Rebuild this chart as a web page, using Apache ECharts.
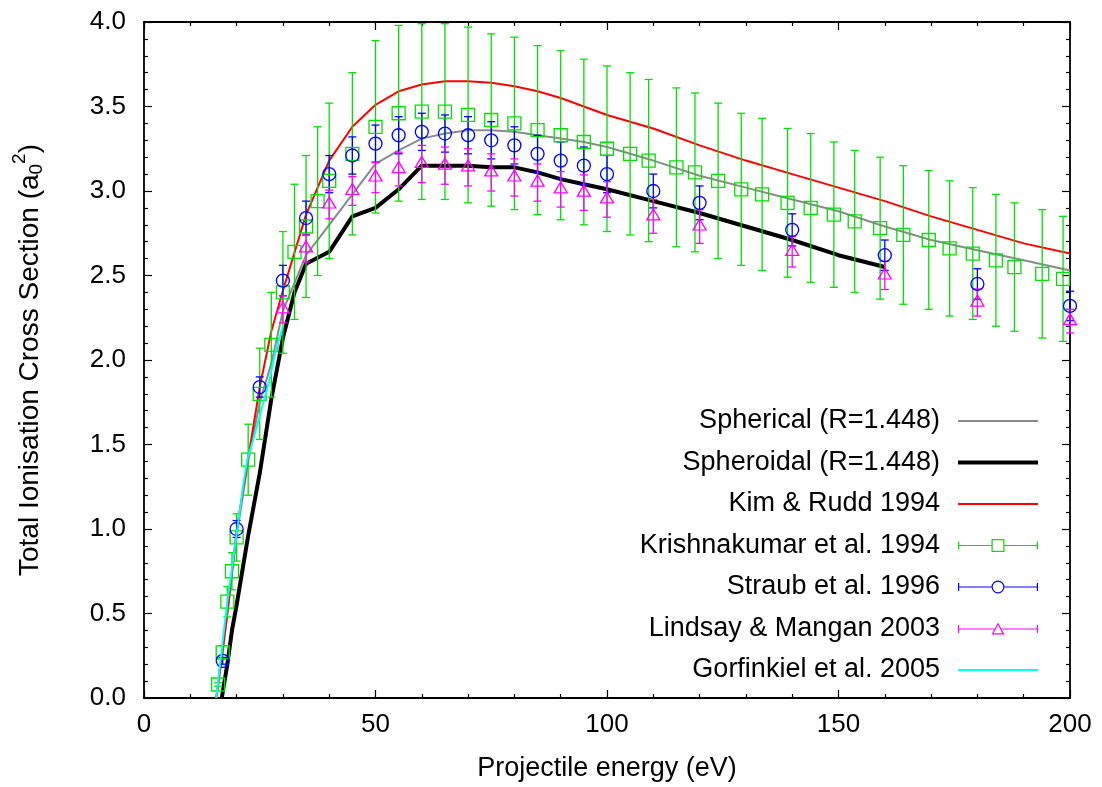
<!DOCTYPE html>
<html>
<head>
<meta charset="utf-8">
<script src="https://cdn.jsdelivr.net/npm/echarts@6/dist/echarts.min.js"></script>
<style>
html,body{margin:0;padding:0;background:#fff;}
#chart{width:1102px;height:787px;}
</style>
</head>
<body>
<div id="chart"></div>
<script>
// ---------------- data ----------------
const xTicks = [0, 50, 100, 150, 200];
const yTicks = [0, 0.5, 1.0, 1.5, 2.0, 2.5, 3.0, 3.5, 4.0];

const sphericalE = [15.6, 17, 20, 22.5, 25, 27.5, 30, 35, 40, 45, 50, 55, 60, 65, 70, 75, 80, 85, 90, 95, 100, 110, 120, 130, 140, 150, 160, 170, 180, 190, 200];
const sphericalV = [0, 0.27, 0.96, 1.40, 1.75, 1.98, 2.29, 2.62, 2.80, 2.98, 3.16, 3.24, 3.31, 3.34, 3.36, 3.36, 3.35, 3.33, 3.31, 3.29, 3.26, 3.18, 3.09, 3.02, 2.95, 2.88, 2.79, 2.71, 2.65, 2.59, 2.53];

const spheroidalE = [16.8, 18, 19, 20, 22.5, 25, 27.5, 30, 32.5, 35, 40, 45, 50, 55, 60, 65, 70, 75, 80, 85, 90, 95, 100, 110, 120, 130, 140, 150, 160];
const spheroidalV = [0, 0.2, 0.4, 0.55, 0.96, 1.33, 1.77, 2.13, 2.40, 2.57, 2.64, 2.85, 2.90, 3.01, 3.15, 3.15, 3.15, 3.14, 3.14, 3.11, 3.07, 3.04, 3.01, 2.94, 2.87, 2.79, 2.71, 2.62, 2.55];

const kimRuddE = [15.6, 18, 20, 22.5, 25, 27.5, 30, 35, 40, 45, 50, 55, 60, 65, 70, 75, 80, 85, 90, 95, 100, 110, 120, 130, 140, 150, 160, 170, 180, 190, 200];
const kimRuddV = [0, 0.5, 0.99, 1.42, 1.84, 2.17, 2.41, 2.86, 3.18, 3.38, 3.51, 3.59, 3.63, 3.65, 3.65, 3.64, 3.62, 3.59, 3.55, 3.50, 3.45, 3.37, 3.27, 3.18, 3.10, 3.02, 2.94, 2.85, 2.77, 2.69, 2.63];

const krishE = [16, 17, 18, 19, 20, 22.5, 25, 27.5, 30, 32.5, 35, 37.5, 40, 45, 50, 55, 60, 65, 70, 75, 80, 85, 90, 95, 100, 105, 109, 115, 119, 124, 129, 133.5, 139, 144, 149, 153.5, 159, 164, 169.5, 174, 179, 184, 188, 194, 198.5];
const krishV = [0.08, 0.27, 0.57, 0.75, 0.95, 1.41, 1.80, 2.09, 2.40, 2.64, 2.79, 2.94, 3.06, 3.22, 3.38, 3.46, 3.47, 3.47, 3.45, 3.42, 3.40, 3.36, 3.33, 3.29, 3.25, 3.22, 3.18, 3.14, 3.11, 3.06, 3.01, 2.98, 2.93, 2.90, 2.86, 2.82, 2.78, 2.74, 2.71, 2.66, 2.63, 2.59, 2.55, 2.51, 2.48];
const krishErr = [0.01, 0.04, 0.09, 0.11, 0.14, 0.21, 0.27, 0.31, 0.36, 0.40, 0.42, 0.44, 0.46, 0.48, 0.51, 0.52, 0.52, 0.52, 0.52, 0.51, 0.51, 0.50, 0.50, 0.49, 0.49, 0.48, 0.48, 0.47, 0.47, 0.46, 0.45, 0.45, 0.44, 0.44, 0.43, 0.42, 0.42, 0.41, 0.41, 0.40, 0.39, 0.39, 0.38, 0.38, 0.37];

const straubE = [17, 20, 25, 30, 35, 40, 45, 50, 55, 60, 65, 70, 75, 80, 85, 90, 95, 100, 110, 120, 140, 160, 180, 200];
const straubV = [0.22, 1.00, 1.84, 2.47, 2.84, 3.10, 3.21, 3.28, 3.33, 3.35, 3.34, 3.33, 3.30, 3.27, 3.22, 3.18, 3.15, 3.10, 3.00, 2.93, 2.77, 2.62, 2.45, 2.32];
const straubErr = [0.02, 0.05, 0.06, 0.09, 0.10, 0.11, 0.11, 0.11, 0.11, 0.11, 0.11, 0.11, 0.11, 0.11, 0.11, 0.11, 0.11, 0.11, 0.10, 0.10, 0.095, 0.09, 0.09, 0.087];

const lindsayE = [30, 35, 40, 45, 50, 55, 60, 65, 70, 75, 80, 85, 90, 95, 100, 110, 120, 140, 160, 180, 200];
const lindsayV = [2.30, 2.66, 2.92, 3.00, 3.08, 3.13, 3.16, 3.15, 3.14, 3.11, 3.08, 3.05, 3.01, 2.99, 2.95, 2.85, 2.79, 2.64, 2.50, 2.34, 2.23];
const lindsayErr = [0.08, 0.08, 0.085, 0.085, 0.09, 0.1, 0.11, 0.11, 0.11, 0.11, 0.11, 0.11, 0.105, 0.105, 0.105, 0.10, 0.10, 0.09, 0.083, 0.08, 0.07];

const gorfE = [15.6, 16.5, 18, 20, 21.5, 22.3, 23.6, 25, 27, 28.5, 30];
const gorfV = [0, 0.22, 0.57, 0.97, 1.27, 1.41, 1.53, 1.67, 1.87, 2.06, 2.20];

const names = ['Spherical (R=1.448)', 'Spheroidal (R=1.448)', 'Kim & Rudd 1994', 'Krishnakumar et al. 1994', 'Straub et al. 1996', 'Lindsay & Mangan 2003', 'Gorfinkiel et al. 2005'];

// ---------------- styling ----------------
const FONT = '"Liberation Sans", Arial, Helvetica, sans-serif';
const C_GRAY = '#8a8a8a', C_BLACK = '#000000', C_RED = '#ff0000', C_GREEN = '#00e000', C_BLUE = '#0000ff', C_MAG = '#ff00ff', C_CYAN = '#00ffff';

const pairs = (E, V) => E.map((e, i) => [e, V[i]]);

function lineSeries(name, E, V, color, width) {
  return {
    type: 'line', name, data: pairs(E, V), symbol: 'none', showSymbol: false,
    lineStyle: { color, width }, itemStyle: { color }, silent: true, animation: false, z: 2
  };
}

function errSeries(name, E, V, Err, color) {
  return {
    type: 'custom', name, silent: true, animation: false, z: 3,
    data: E.map((e, i) => [e, V[i] - Err[i], V[i] + Err[i]]),
    encode: { x: 0, y: [1, 2] },
    renderItem(params, api) {
      const x = api.value(0);
      const lo = api.coord([x, api.value(1)]);
      const hi = api.coord([x, api.value(2)]);
      const cw = 4;
      const style = { stroke: color, lineWidth: 1.3, fill: null };
      return {
        type: 'group', children: [
          { type: 'line', shape: { x1: lo[0], y1: lo[1], x2: hi[0], y2: hi[1] }, style },
          { type: 'line', shape: { x1: lo[0] - cw, y1: lo[1], x2: lo[0] + cw, y2: lo[1] }, style },
          { type: 'line', shape: { x1: hi[0] - cw, y1: hi[1], x2: hi[0] + cw, y2: hi[1] }, style }
        ]
      };
    }
  };
}

function markSeries(name, E, V, color, symbol, size, offset) {
  return {
    type: 'scatter', name, data: pairs(E, V), symbol, symbolSize: size,
    symbolOffset: offset || [0, 0], clip: false, silent: true, animation: false, z: 4,
    itemStyle: { color: 'rgba(0,0,0,0)', borderColor: color, borderWidth: 1.3, opacity: 1 }
  };
}

// legend icons (drawn as filled paths, 80 x 14 box)
const ICON_GRAY = 'path://M0,0h80v2h-80z';
const ICON_BLACK = 'path://M0,0h80v4h-80z';
const ICON_SQ = 'path://M0,6.4h33.5v1.2h-33.5z M46.5,6.4h33.5v1.2h-33.5z M0,3h1.2v8h-1.2z M78.8,3h1.2v8h-1.2z M33.5,0.5h13v13h-13z M34.7,1.7v10.6h10.6v-10.6z';
const ICON_CI = 'path://M0,6.4h33.5v1.2h-33.5z M46.5,6.4h33.5v1.2h-33.5z M0,3h1.2v8h-1.2z M78.8,3h1.2v8h-1.2z M33.5,7a6.5,6.5 0 1,1 13,0a6.5,6.5 0 1,1 -13,0z M34.7,7a5.3,5.3 0 1,0 10.6,0a5.3,5.3 0 1,0 -10.6,0z';
const ICON_TR = 'path://M0,6.4h36.2v1.2h-36.2z M43.8,6.4h36.2v1.2h-36.2z M0,3h1.2v8h-1.2z M78.8,3h1.2v8h-1.2z M40,0.5L46.5,12.5L33.5,12.5z M40,2.9L35.6,11.3L44.4,11.3z';

const axisCommon = {
  type: 'value',
  axisLine: { show: true, onZero: false, lineStyle: { color: '#000', width: 1.8 } },
  axisTick: { show: true, inside: true, length: 8, lineStyle: { color: '#000', width: 1.2 } },
  minorTick: { show: true, splitNumber: 5, length: 4, lineStyle: { color: '#000', width: 1.2 } },
  splitLine: { show: false },
  minorSplitLine: { show: false }
};

const option = {
  animation: false,
  backgroundColor: '#ffffff',
  grid: { left: 144, right: 32, top: 22, bottom: 89, containLabel: false },
  xAxis: [
    Object.assign({}, axisCommon, {
      min: xTicks[0], max: xTicks[xTicks.length - 1], interval: xTicks[1] - xTicks[0], position: 'bottom',
      name: 'Projectile energy (eV)', nameLocation: 'middle', nameGap: 57,
      nameTextStyle: { fontSize: 27, color: '#000', fontFamily: FONT },
      axisLabel: { show: true, fontSize: 26, color: '#000', fontFamily: FONT, margin: 14 }
    }),
    Object.assign({}, axisCommon, {
      min: xTicks[0], max: xTicks[xTicks.length - 1], interval: xTicks[1] - xTicks[0], position: 'top',
      axisLabel: { show: false }
    })
  ],
  yAxis: [
    Object.assign({}, axisCommon, {
      min: yTicks[0], max: yTicks[yTicks.length - 1], interval: yTicks[1] - yTicks[0], position: 'left',
      name: '{m|Total Ionisation Cross Section (a}{sub|0}{sup|2}{m|)}',
      nameLocation: 'middle', nameRotate: 90, nameGap: 94,
      nameTextStyle: {
        color: '#000', fontFamily: FONT,
        rich: {
          m: { fontSize: 28, fontFamily: FONT, color: '#000', lineHeight: 40, verticalAlign: 'middle' },
          sub: { fontSize: 19, fontFamily: FONT, color: '#000', lineHeight: 19, verticalAlign: 'bottom', padding: [0, 0, 4, 0] },
          sup: { fontSize: 19, fontFamily: FONT, color: '#000', lineHeight: 19, verticalAlign: 'top', padding: [0, 0, 0, 0] }
        }
      },
      axisLabel: { show: true, fontSize: 26, color: '#000', fontFamily: FONT, margin: 18, formatter: v => v.toFixed(1) }
    }),
    Object.assign({}, axisCommon, {
      min: yTicks[0], max: yTicks[yTicks.length - 1], interval: yTicks[1] - yTicks[0], position: 'right',
      axisLabel: { show: false }
    })
  ],
  legend: {
    orient: 'vertical', align: 'right', right: 64, top: 406, padding: 0,
    itemWidth: 80, itemHeight: 14, itemGap: 11.5, selectedMode: false,
    textStyle: { fontSize: 27, color: '#000', fontFamily: FONT, lineHeight: 30, padding: [0, 13, 0, 0] },
    data: [
      { name: names[0], icon: ICON_GRAY, itemStyle: { color: C_GRAY, borderWidth: 0 } },
      { name: names[1], icon: ICON_BLACK, itemStyle: { color: C_BLACK, borderWidth: 0 } },
      { name: names[2], icon: ICON_GRAY, itemStyle: { color: C_RED, borderWidth: 0 } },
      { name: names[3], icon: ICON_SQ, itemStyle: { color: C_GREEN, borderWidth: 0 } },
      { name: names[4], icon: ICON_CI, itemStyle: { color: C_BLUE, borderWidth: 0 } },
      { name: names[5], icon: ICON_TR, itemStyle: { color: C_MAG, borderWidth: 0 } },
      { name: names[6], icon: ICON_GRAY, itemStyle: { color: C_CYAN, borderWidth: 0 } }
    ]
  },
  series: [
    lineSeries(names[0], sphericalE, sphericalV, C_GRAY, 2),
    lineSeries(names[1], spheroidalE, spheroidalV, C_BLACK, 4),
    lineSeries(names[2], kimRuddE, kimRuddV, C_RED, 2),
    errSeries(names[3], krishE, krishV, krishErr, C_GREEN),
    markSeries(names[3], krishE, krishV, C_GREEN, 'rect', 13),
    errSeries(names[4], straubE, straubV, straubErr, C_BLUE),
    markSeries(names[4], straubE, straubV, C_BLUE, 'circle', 13),
    errSeries(names[5], lindsayE, lindsayV, lindsayErr, C_MAG),
    markSeries(names[5], lindsayE, lindsayV, C_MAG, 'triangle', [13, 11], [0, -2]),
    Object.assign(lineSeries(names[6], gorfE, gorfV, C_CYAN, 2), { z: 5 })
  ]
};

const chart = echarts.init(document.getElementById('chart'), null, { renderer: 'canvas' });
chart.setOption(option);
</script>
</body>
</html>
